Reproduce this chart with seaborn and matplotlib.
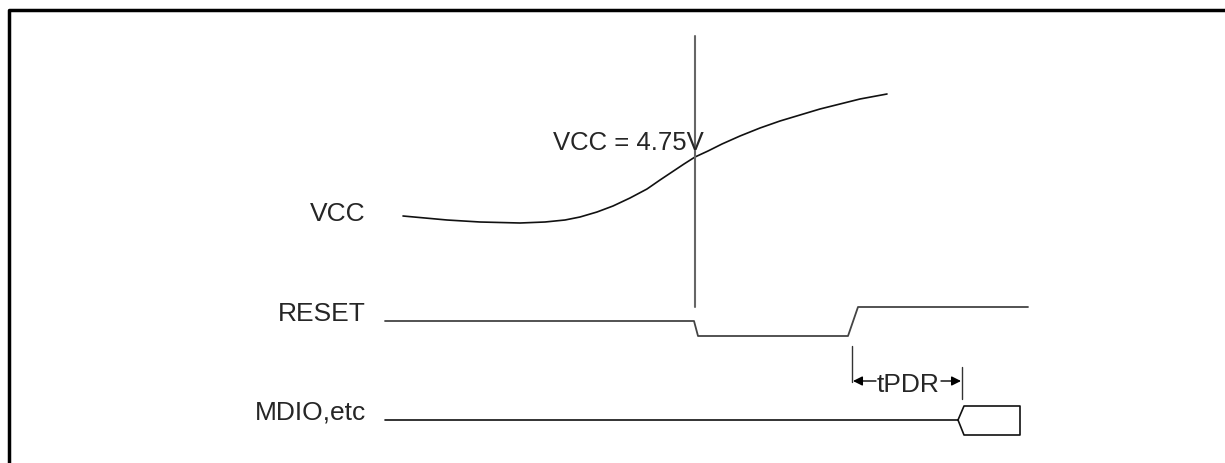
import matplotlib
matplotlib.use("Agg")
import matplotlib.pyplot as plt
import seaborn as sns

sns.set_style("white")
plt.rcParams['font.family'] = ['Liberation Sans', 'DejaVu Sans']

# diagram units = pixels of the 1225x464 canvas (y down)
vcc_x = [403, 425, 447, 480, 520, 545, 565, 580, 597, 613, 630, 647, 660, 672,
         684, 695, 708, 722, 740, 760, 780, 800, 820, 840, 860, 887]
vcc_y = [217, 219, 221, 223, 224, 223, 221, 218, 213, 207, 199, 190, 181, 173,
         165, 158, 152, 145, 137, 129, 122, 116, 110, 105, 100, 95]

reset_x = [385, 694, 698, 848, 858, 1028]
reset_y = [322, 322, 337, 337, 308, 308]

mdio_x = [385, 958, 964, 1020, 1020, 964, 958]
mdio_y = [421, 421, 407, 407, 436, 436, 421]

marker_x = 695
marker_y = [37, 308]

labels = ['VCC', 'RESET', 'MDIO,etc']
label_y = [214, 314, 413]

tpdr_start, tpdr_end = 852, 962

fig = plt.figure(figsize=(12.25, 4.64), dpi=100)
ax = fig.add_axes([0, 0, 1, 1])
ax.set_xlim(0, 1225)
ax.set_ylim(464, 0)
ax.axis('off')

# frame
ax.plot([8.5, 8.5, 1225], [464, 10.5, 10.5], color='black', lw=2.5)

sns.lineplot(x=vcc_x, y=vcc_y, sort=False, estimator=None, color='#111111', lw=1.2, ax=ax)
sns.lineplot(x=reset_x, y=reset_y, sort=False, estimator=None, color='#444444', lw=1.3, ax=ax)
sns.lineplot(x=mdio_x, y=mdio_y, sort=False, estimator=None, color='#111111', lw=1.2, ax=ax)
ax.plot([marker_x, marker_x], marker_y, color='#666666', lw=1.5)

for lab, yy in zip(labels, label_y):
    ax.text(366, yy, lab, ha='right', va='center', fontsize=19)

ax.text(553, 143, 'VCC = 4.75V', ha='left', va='center', fontsize=18.5)

# tPDR dimension
ax.plot([tpdr_start, tpdr_start], [347, 383], color='#333333', lw=1.0)
ax.plot([tpdr_end, tpdr_end], [368, 400], color='#333333', lw=1.0)
ax.text(908, 385, 'tPDR', ha='center', va='center', fontsize=19)
ax.annotate('', xy=(tpdr_start + 1, 382), xytext=(876, 382),
            arrowprops=dict(arrowstyle='-|>', color='black', lw=1.0, mutation_scale=14,
                            shrinkA=0, shrinkB=0))
ax.annotate('', xy=(tpdr_end - 1, 382), xytext=(941, 382),
            arrowprops=dict(arrowstyle='-|>', color='black', lw=1.0, mutation_scale=14,
                            shrinkA=0, shrinkB=0))

plt.savefig('out.png', dpi=100)
